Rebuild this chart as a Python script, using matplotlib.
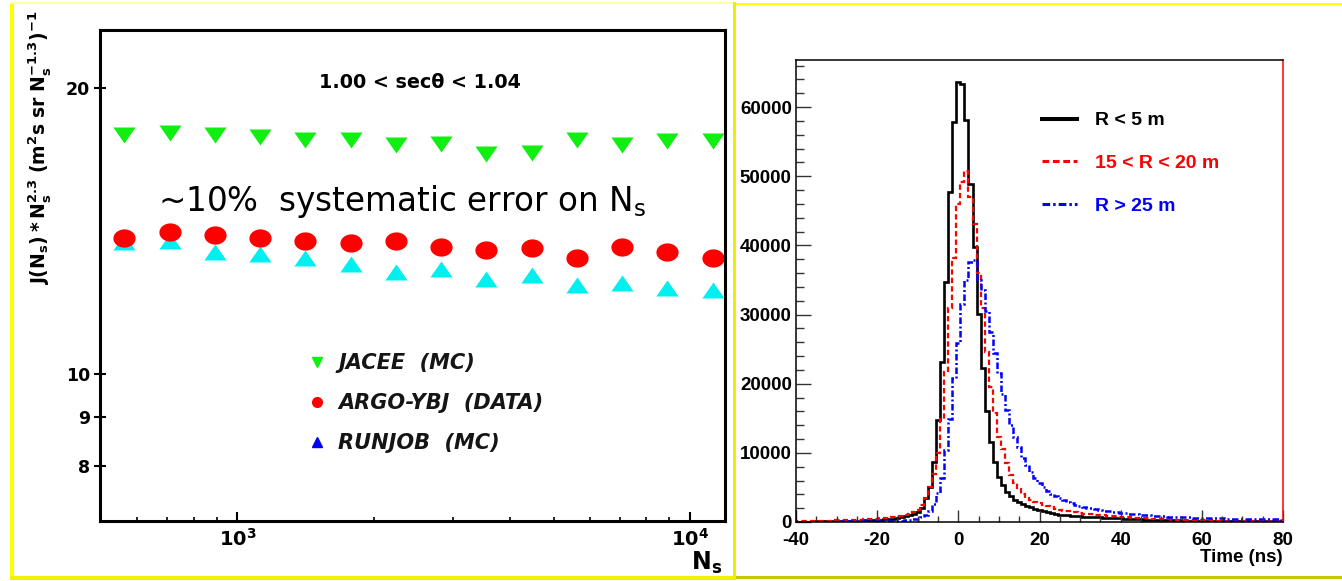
import numpy as np
import matplotlib
matplotlib.use("Agg")
import matplotlib.pyplot as plt
from matplotlib.lines import Line2D
from matplotlib.patches import Rectangle
from matplotlib.ticker import FixedLocator, NullLocator, NullFormatter, MultipleLocator

W, H = 1342, 581

# ---- left panel: J(Ns)*Ns^2.3 vs Ns
ns = [562, 708, 891, 1122, 1413, 1778, 2239, 2818, 3548, 4467, 5623, 7079, 8913, 11220]
jacee = [17.85, 17.92, 17.85, 17.74, 17.63, 17.63, 17.39, 17.43, 17.04, 17.08, 17.63, 17.39, 17.58, 17.58]
argo = [13.91, 14.09, 14.00, 13.89, 13.80, 13.74, 13.80, 13.61, 13.50, 13.56, 13.25, 13.61, 13.42, 13.25]
runjob = [13.77, 13.80, 13.44, 13.36, 13.25, 13.04, 12.81, 12.89, 12.58, 12.71, 12.39, 12.45, 12.30, 12.26]
left_labels = ["JACEE  (MC)", "ARGO-YBJ  (DATA)", "RUNJOB  (MC)"]
left_yticks = [8, 9, 10, 20]
left_ytick_labels = ["8", "9", "10", "20"]
left_xticks = [1e3, 1e4]
left_xtick_labels = [r"$\mathbf{10^{3}}$", r"$\mathbf{10^{4}}$"]
left_xminor = [600, 700, 800, 900, 2000, 3000, 4000, 5000, 6000, 7000, 8000, 9000]

# ---- right panel: arrival time distributions, 1 ns bins centred on -40..80
t_centers = np.arange(-40, 81)
h_r5 = [60, 60, 65, 65, 70, 75, 80, 90, 100, 110,
        130, 140, 150, 160, 170, 190, 210, 230, 250, 280,
        310, 350, 390, 440, 500, 580, 680, 800, 950, 1150,
        1500, 2000, 3400, 5100, 8700, 14700, 23200, 34700, 47700, 57900,
        63600, 63400, 58100, 48900, 39700, 30100, 22200, 16000, 11600, 8700,
        6550, 5300, 4400, 3700, 3200, 2900, 2600, 2350, 2100, 1900,
        1700, 1550, 1400, 1280, 1170, 1080, 1000, 940, 890, 850,
        810, 780, 750, 720, 690, 660, 630, 600, 570, 540,
        510, 480, 455, 430, 405, 380, 360, 340, 320, 300,
        285, 270, 255, 240, 225, 210, 200, 190, 180, 170,
        160, 150, 145, 140, 135, 130, 125, 120, 115, 110,
        105, 100, 98, 95, 92, 90, 88, 85, 82, 80, 78]
h_r15 = [150, 150, 160, 160, 170, 170, 180, 190, 200, 210,
         230, 240, 260, 280, 300, 320, 350, 380, 410, 450,
         500, 540, 590, 640, 700, 780, 870, 1000, 1150, 1400,
         1800, 2500, 3500, 5000, 7000, 10000, 14900, 21700, 31000, 38100,
         46000, 49200, 50700, 47000, 43100, 36000, 31000, 24600, 19500, 15800,
         12300, 10500, 8500, 6800, 5600, 4700, 4000, 3500, 3200, 2900,
         2700, 2500, 2300, 2100, 1950, 1800, 1650, 1550, 1450, 1380,
         1300, 1220, 1150, 1090, 1040, 1000, 950, 900, 850, 800,
         760, 720, 680, 640, 600, 570, 540, 510, 480, 450,
         420, 400, 380, 360, 340, 320, 300, 285, 270, 255,
         240, 230, 220, 210, 200, 190, 185, 180, 175, 170,
         165, 160, 155, 150, 145, 140, 135, 130, 125, 120, 115]
h_r25 = [40, 40, 45, 45, 50, 50, 55, 55, 60, 60,
         65, 70, 75, 80, 85, 90, 95, 100, 110, 120,
         130, 140, 150, 160, 170, 190, 210, 240, 300, 380,
         500, 700, 1050, 1600, 2600, 4200, 6400, 10400, 14900, 20800,
         25900, 31500, 35000, 37600, 37950, 35000, 33500, 30500, 27500, 24500,
         21500, 18500, 16200, 14000, 12300, 10800, 9300, 8200, 7200, 6300,
         5600, 5000, 4500, 4050, 3700, 3400, 3150, 2900, 2700, 2500,
         2350, 2200, 2080, 1960, 1850, 1750, 1660, 1580, 1500, 1420,
         1350, 1280, 1220, 1160, 1100, 1050, 1000, 960, 920, 880,
         850, 820, 790, 760, 730, 700, 680, 660, 640, 620,
         600, 580, 560, 545, 530, 515, 500, 490, 480, 470,
         460, 450, 440, 430, 420, 410, 400, 390, 380, 370, 360]
right_labels = ["R < 5 m", "15 < R < 20 m", "R > 25 m"]
right_xticks = [-40, -20, 0, 20, 40, 60, 80]
right_xtick_labels = ["-40", "-20", "0", "20", "40", "60", "80"]
right_yticks = [0, 10000, 20000, 30000, 40000, 50000, 60000]
right_ytick_labels = ["0", "10000", "20000", "30000", "40000", "50000", "60000"]

fig = plt.figure(figsize=(W / 100, H / 100), dpi=100)
fig.patch.set_facecolor("white")


def px_axes(l, t, r, b):
    return fig.add_axes([l / W, 1 - b / H, (r - l) / W, (b - t) / H])


def px_rect(x, y, w, h, c):
    fig.add_artist(Rectangle((x / W, 1 - (y + h) / H), w / W, h / H,
                             transform=fig.transFigure, color=c, lw=0))


# yellow slide frames
px_rect(10, 4, 4, 575, "#ffff00")
px_rect(10, 2, 724, 1.5, "#ffffa8")
px_rect(10, 576, 724, 4, "#f2f200")
px_rect(733, 2, 3, 578, "#eeee00")
px_rect(736, 3, 606, 2, "#ffff00")
px_rect(736, 576, 606, 3, "#c8c800")

# ================= left panel
ax1 = px_axes(100, 30, 725, 521)
ax1.set_xscale("log")
ax1.set_yscale("log")
ax1.set_xlim(497, 11950)
ax1.set_ylim(7.0, 23.0)

tri_dn = [(-1, 0.72), (1, 0.72), (0, -0.72)]
tri_up = [(-1, -0.72), (1, -0.72), (0, 0.72)]
th = np.linspace(0, 2 * np.pi, 48)
oval = list(zip(np.cos(th), 0.82 * np.sin(th)))

ax1.plot(ns, runjob, ls="none", marker=tri_up, ms=16, color="#00f0f0", mec="none")
ax1.plot(ns, argo, ls="none", marker=oval, ms=16, color="#ff0000", mec="none")
ax1.plot(ns, jacee, ls="none", marker=tri_dn, ms=16, color="#11ee11", mec="none")

ax1.yaxis.set_major_locator(FixedLocator(left_yticks))
ax1.yaxis.set_minor_locator(NullLocator())
ax1.set_yticks(left_yticks, labels=left_ytick_labels, fontsize=12.5, fontweight="bold")
ax1.set_xticks(left_xticks, labels=left_xtick_labels, fontsize=14)
ax1.xaxis.set_minor_locator(FixedLocator(left_xminor))
ax1.xaxis.set_minor_formatter(NullFormatter())
ax1.tick_params(axis="y", which="major", direction="inout", length=8.5, width=1.5, pad=3)
ax1.tick_params(axis="x", which="major", direction="in", length=6.7, width=1.5, pad=5)
ax1.tick_params(axis="x", which="minor", direction="in", length=3, width=1.2)
for s in ax1.spines.values():
    s.set_linewidth(2.2)

ylab = ax1.set_ylabel(r"$\mathbf{J(N_s)*N_s^{2.3}\ (m^2s\ sr\ N_s^{-1.3})^{-1}}$", fontsize=13.5)
ylab.set_rotation_mode("default")
ylab.set_verticalalignment("center")
ax1.yaxis.set_label_coords(-0.096, 0.761)

xlab = ax1.set_xlabel(r"$\mathbf{N_s}$", fontsize=17, loc="right")
ax1.xaxis.set_label_coords(0.995, -0.058)

ax1.text(0.512, 0.894, "1.00 < secθ < 1.04", transform=ax1.transAxes,
         ha="center", va="center", fontsize=13.8, fontweight="bold")
ax1.text(0.093, 0.632, r"~10%  systematic error on N$_\mathregular{s}$",
         transform=ax1.transAxes, ha="left", va="baseline", fontsize=23.5)

lh = [Line2D([], [], ls="none", marker="v", ms=7, color="#11ee11"),
      Line2D([], [], ls="none", marker="o", ms=7, color="#ff0000"),
      Line2D([], [], ls="none", marker="^", ms=7, color="#0000ff")]
ax1.legend(lh, left_labels, loc="upper left", bbox_to_anchor=(0.331, 0.342),
           frameon=False, borderpad=0, borderaxespad=0, handlelength=1.0,
           handletextpad=0.5, labelspacing=0.97, labelcolor="#151515",
           prop=dict(family="DejaVu Sans", weight="bold", style="italic", size=15))

# ================= right panel
ax2 = px_axes(796, 60, 1283, 522)
edges = np.append(t_centers - 0.5, t_centers[-1] + 0.5)
ax2.stairs(h_r5, edges, color="black", lw=1.9)
ax2.stairs(h_r15, edges, color="#ff0000", lw=1.6, ls=(0, (2.4, 1.4)))
ax2.stairs(h_r25, edges, color="#0000ff", lw=1.8, ls=(0, (2.6, 1.0, 0.8, 1.0)))
ax2.set_xlim(-40, 80)
ax2.set_ylim(0, 66800)

rfont = dict(fontfamily="Liberation Sans", fontweight="bold", fontsize=13.5)
ax2.set_xticks(right_xticks, labels=right_xtick_labels, **rfont)
ax2.set_yticks(right_yticks, labels=right_ytick_labels, **rfont)
ax2.xaxis.set_minor_locator(MultipleLocator(5))
ax2.yaxis.set_minor_locator(MultipleLocator(2000))
ax2.tick_params(axis="x", which="major", direction="in", length=9, width=1, color="#333333", pad=7)
ax2.tick_params(axis="x", which="minor", direction="in", length=4.3, width=1, color="#333333")
ax2.tick_params(axis="y", which="major", direction="in", length=11, width=1, color="#333333", pad=3)
ax2.tick_params(axis="y", which="minor", direction="in", length=5.5, width=1, color="#333333")
for s in ax2.spines.values():
    s.set_linewidth(1.1)
ax2.spines["right"].set_color("#ff0000")

ax2.set_xlabel("Time (ns)", loc="right", **rfont)
ax2.xaxis.set_label_coords(1.0, -0.058)

rh = [Line2D([], [], color="black", lw=2.9),
      Line2D([], [], color="#ff0000", lw=2.2, ls=(0, (2.2, 1.2))),
      Line2D([], [], color="#0000ff", lw=2.2, ls=(0, (2.5, 1.0, 0.8, 1.0)))]
ax2.legend(rh, right_labels, loc="upper left", bbox_to_anchor=(0.505, 0.888),
           frameon=False, borderpad=0, borderaxespad=0, handlelength=1.8,
           handletextpad=0.93, labelspacing=1.3, labelcolor="linecolor",
           prop=dict(family="Liberation Sans", weight="bold", size=14))

fig.savefig("out.png", dpi=100, facecolor="white")
